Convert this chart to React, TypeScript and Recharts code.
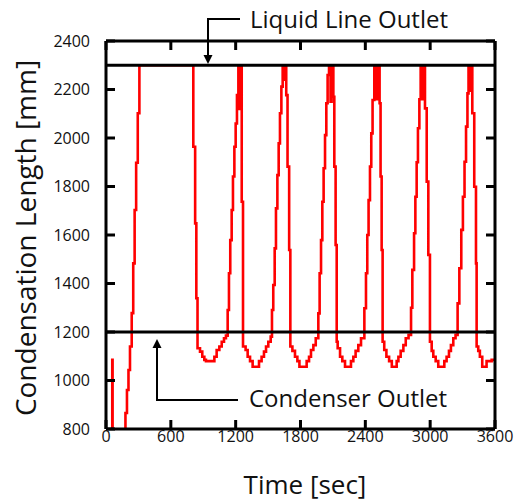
import { LineChart, Line, XAxis, YAxis, ReferenceLine } from "recharts";

// time [s] and condensation length [mm] (step plot)
const timeSec = [
  0, 58, 61, 180, 194, 208, 222, 238, 252, 265, 279, 294, 309,
  808, 825, 836, 847,
  870, 891, 910, 925, 1003, 1024, 1049, 1071, 1092, 1110,
  1126, 1138, 1150, 1163, 1175, 1188, 1200, 1212, 1225, 1234, 1243,
  1256, 1268,
  1292, 1311, 1333, 1357, 1416, 1440, 1462, 1481, 1502, 1524,
  1536, 1548, 1561, 1573, 1586, 1598, 1610, 1623, 1635, 1650, 1658,
  1668, 1680, 1695, 1706,
  1725, 1749, 1771, 1790, 1857, 1879, 1897, 1919, 1941,
  1965, 1977, 1990, 2002, 2014, 2027, 2039, 2051, 2064, 2078, 2088,
  2104, 2113, 2125, 2135,
  2144, 2166, 2187, 2212, 2267, 2289, 2310, 2335, 2360,
  2391, 2406, 2418, 2430, 2443, 2455, 2467, 2483, 2500, 2510,
  2532, 2541, 2551, 2560,
  2575, 2595, 2620, 2645, 2690, 2706, 2727, 2752, 2774, 2800,
  2823, 2835, 2851, 2863, 2875, 2887, 2900, 2912, 2930, 2938,
  2952, 2968, 2983, 2998,
  3014, 3029, 3051, 3075, 3131, 3152, 3174, 3192, 3214, 3235,
  3254, 3270, 3288, 3303, 3318, 3332, 3345, 3355, 3368, 3376,
  3390, 3408, 3424, 3430,
  3445, 3460, 3482, 3522, 3569, 3600,
];

const lengthMm = [
  600, 1085, 600, 866, 961, 1043, 1140, 1278, 1483, 1703, 1898, 2102, 2300,
  1964, 1648, 1339, 1133,
  1119, 1098, 1085, 1080, 1098, 1126, 1140, 1160, 1174, 1185,
  1291, 1442, 1579, 1703, 1841, 1964, 2060, 2177, 2300, 2120, 2300,
  1737, 1140,
  1126, 1098, 1080, 1057, 1080, 1098, 1119, 1140, 1160, 1181,
  1291, 1394, 1545, 1710, 1847, 1978, 2102, 2212, 2300, 2240, 2300,
  2177, 1882, 1538, 1140,
  1122, 1098, 1080, 1057, 1080, 1098, 1126, 1146, 1174,
  1277, 1442, 1579, 1737, 1875, 2012, 2143, 2260, 2300, 2150, 2300,
  2170, 1882, 1559, 1160,
  1133, 1098, 1080, 1057, 1080, 1098, 1122, 1146, 1174,
  1298, 1442, 1600, 1744, 1882, 2019, 2157, 2300, 2160, 2300,
  2143, 1841, 1538, 1160,
  1126, 1098, 1080, 1057, 1080, 1098, 1122, 1146, 1174, 1188,
  1300, 1456, 1607, 1758, 1900, 2040, 2160, 2300, 2160, 2300,
  2122, 1820, 1518, 1160,
  1122, 1098, 1080, 1057, 1080, 1098, 1122, 1146, 1174, 1188,
  1318, 1463, 1621, 1758, 1902, 2047, 2184, 2300, 2195, 2300,
  2102, 1799, 1483, 1140,
  1122, 1098, 1057, 1080, 1085, 1085,
];

const timeTicks = [0, 600, 1200, 1800, 2400, 3000, 3600];
const lengthTicks = [800, 1000, 1200, 1400, 1600, 1800, 2000, 2200, 2400];

const liquidLineOutlet = 2300;
const condenserOutlet = 1200;

const data = timeSec.map((t, i) => ({ t, len: lengthMm[i] }));

const FONT = "'Open Sans', sans-serif";
const INK = "#111";
const axisStroke = { stroke: "#000", strokeWidth: 3 };
const tickFont = { fontSize: 16, fill: INK, fontFamily: FONT };
const noLabel = () => "";

export default function App() {
  return (
    <div style={{ position: "absolute", left: 0, top: 0, background: "#fff" }}>
      <LineChart
        width={518}
        height={503}
        data={data}
        margin={{ top: 1, right: 3, bottom: 0, left: 0 }}
      >
        <XAxis
          dataKey="t"
          type="number"
          domain={[0, 3600]}
          ticks={timeTicks}
          allowDataOverflow
          height={74}
          axisLine={axisStroke}
          tickLine={axisStroke}
          tickSize={-9}
          tickMargin={11}
          tick={tickFont}
        />
        <XAxis
          xAxisId="top"
          orientation="top"
          dataKey="t"
          type="number"
          domain={[0, 3600]}
          ticks={timeTicks}
          allowDataOverflow
          height={40}
          axisLine={axisStroke}
          tickLine={axisStroke}
          tickSize={-9}
          tickFormatter={noLabel}
        />
        <YAxis
          type="number"
          domain={[800, 2400]}
          ticks={lengthTicks}
          allowDataOverflow
          width={106}
          axisLine={axisStroke}
          tickLine={axisStroke}
          tickSize={-9}
          tickMargin={25}
          tick={tickFont}
        />
        <YAxis
          yAxisId="right"
          orientation="right"
          type="number"
          domain={[800, 2400]}
          ticks={lengthTicks}
          allowDataOverflow
          width={20}
          axisLine={axisStroke}
          tickLine={axisStroke}
          tickSize={-9}
          tickFormatter={noLabel}
        />
        <Line
          type="stepAfter"
          dataKey="len"
          stroke="#ff0000"
          strokeWidth={2.6}
          dot={false}
          activeDot={false}
          isAnimationActive={false}
        />
        <ReferenceLine y={liquidLineOutlet} stroke="#000" strokeWidth={3.2} zIndex={450} />
        <ReferenceLine y={condenserOutlet} stroke="#000" strokeWidth={3.2} zIndex={450} />

        {/* annotations */}
        <path d="M240 19 H208 V56" fill="none" stroke="#000" strokeWidth={2} />
        <polygon points="203.5,55 212.5,55 208,64" fill="#000" />
        <text x={250} y={28} fontSize={24} fontFamily={FONT} fill={INK}>
          Liquid Line Outlet
        </text>
        <path d="M238 400 H157 V347" fill="none" stroke="#000" strokeWidth={2} />
        <polygon points="152.5,348 161.5,348 157,339" fill="#000" />
        <text x={249} y={407} fontSize={24} fontFamily={FONT} fill={INK}>
          Condenser Outlet
        </text>

        <text x={305} y={494} textAnchor="middle" fontSize={26} fontFamily={FONT} fill={INK}>
          Time [sec]
        </text>
        <text
          x={36}
          y={238}
          transform="rotate(-90 36 238)"
          textAnchor="middle"
          fontSize={28}
          fontFamily={FONT}
          fill={INK}
        >
          Condensation Length [mm]
        </text>
      </LineChart>
    </div>
  );
}
